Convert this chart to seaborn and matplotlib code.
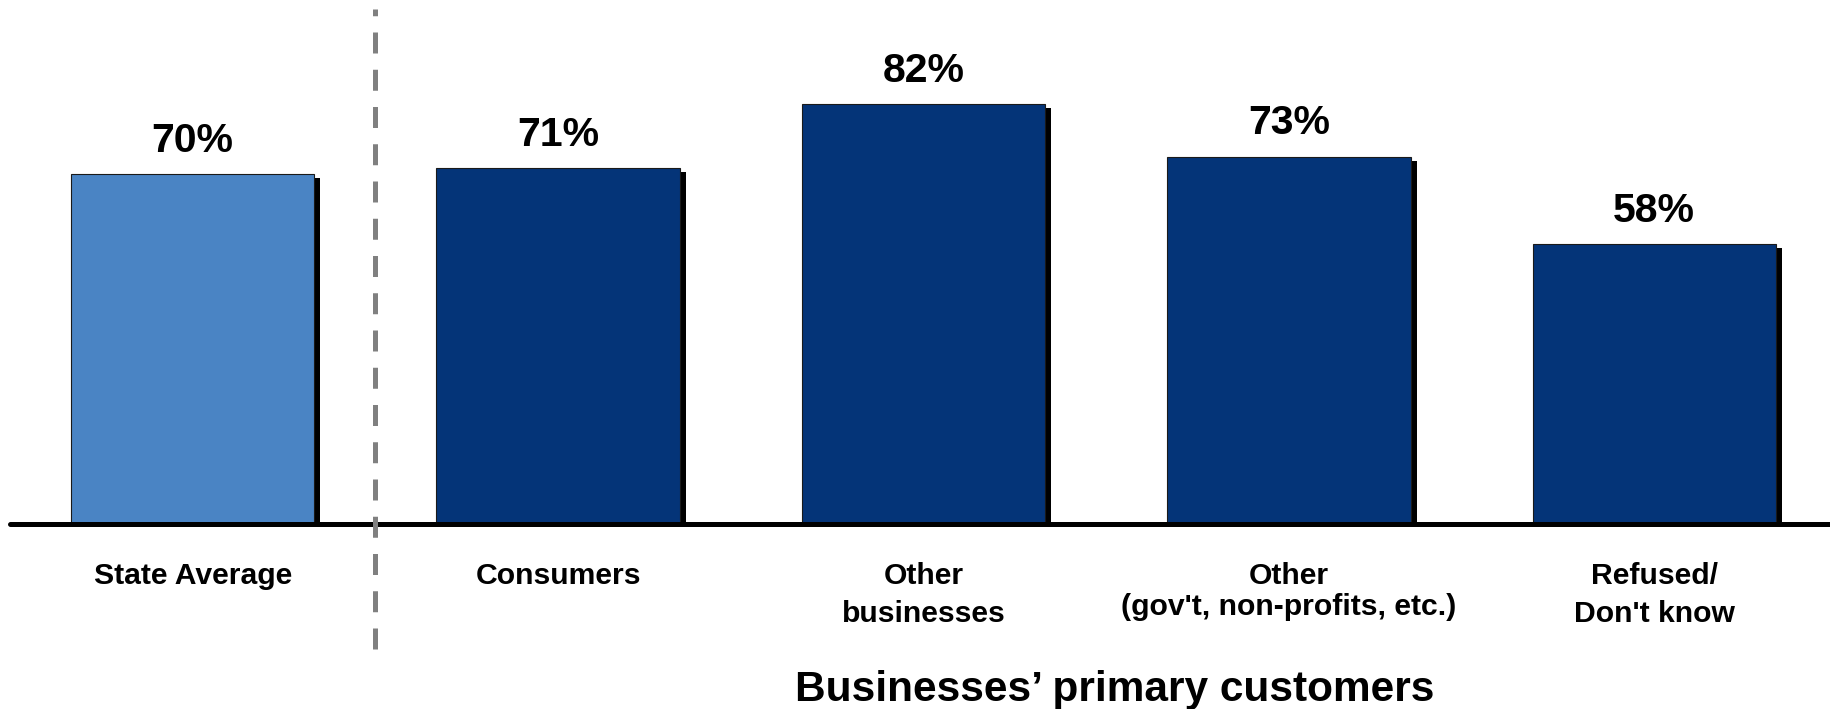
import matplotlib
matplotlib.use("Agg")
import matplotlib.pyplot as plt
import matplotlib.patheffects as pe
import seaborn as sns

# Share of businesses by primary customer group, with the state average first
categories = [
    "State Average",
    "Consumers",
    "Other\nbusinesses",
    "Other\n(gov't, non-profits, etc.)",
    "Refused/\nDon't know",
]
shares = [70, 71, 82, 73, 58]
bar_colors = ["#4A84C4", "#043478", "#043478", "#043478", "#043478"]
axis_title = "Businesses\u2019 primary customers"

sns.set_style("white")
plt.rcParams["font.family"] = ["Liberation Sans", "DejaVu Sans"]
plt.rcParams["text.color"] = "black"
plt.rcParams["axes.labelcolor"] = "black"
plt.rcParams["xtick.color"] = "black"

fig = plt.figure(figsize=(18.3, 7.0999), dpi=100)
ax = fig.add_axes([10 / 1830, 185 / 710, 1820 / 1830, 525 / 710])

sns.barplot(
    x=categories, y=shares, hue=categories, palette=bar_colors,
    saturation=1, width=0.666, edgecolor="#1a1a1a", linewidth=0.8,
    legend=False, ax=ax, zorder=2,
)

# drop shadow to the lower right of each bar
for patch in ax.patches:
    patch.set_path_effects([
        pe.SimplePatchShadow(offset=(4.3, -2.9), shadow_rgbFace="black", alpha=1.0),
        pe.Normal(),
    ])

for container in ax.containers:
    ax.bar_label(container, fmt="{:.0f}%", padding=11, fontsize=29.5,
                 fontweight="bold", color="black")

ax.set_ylim(10, 100)
ax.set_xlim(-0.5, 4.481)
ax.set_yticks([])
ax.set_ylabel("")

for side in ("left", "top", "right"):
    ax.spines[side].set_visible(False)
bottom = ax.spines["bottom"]
bottom.set_linewidth(3.6)
bottom.set_color("black")
bottom.set_capstyle("round")

ax.tick_params(axis="x", length=0, pad=27, labelsize=21.7, labelcolor="black")
for lab in ax.get_xticklabels():
    lab.set_fontweight("bold")
    lab.set_linespacing(1.12 if "(" in lab.get_text() else 1.45)

# separator between the state average and the customer groups
ax.plot([0.5, 0.5], [-11.43, 98.29], color="#808080", lw=3.6,
        ls=(0, (4.2, 3.25)), dash_capstyle="butt", clip_on=False, zorder=5)

ax.set_xlabel(axis_title, fontsize=30.5, fontweight="bold", color="black")
ax.xaxis.set_label_coords(0.6071, -0.3352)
ax.xaxis.label.set_va("baseline")

fig.savefig("out.png", dpi=100)
